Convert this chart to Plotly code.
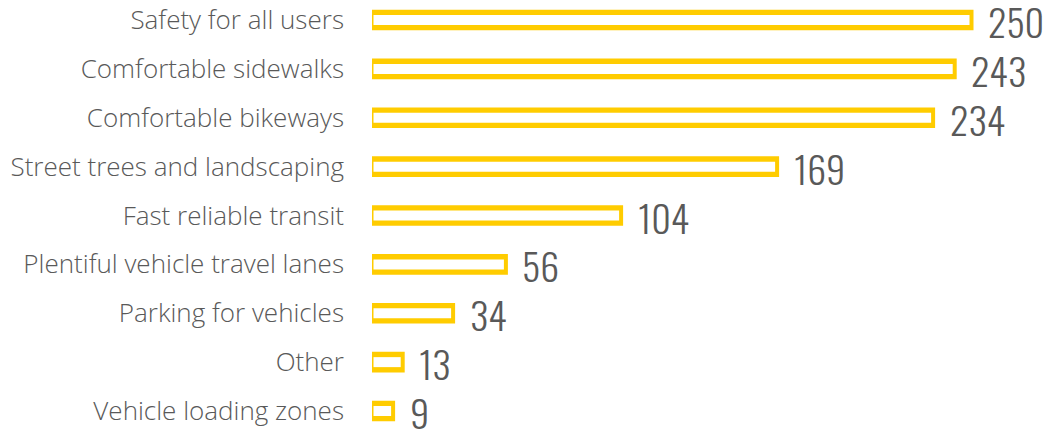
import plotly.graph_objects as go

categories = ["Safety for all users", "Comfortable sidewalks", "Comfortable bikeways",
              "Street trees and landscaping", "Fast reliable transit",
              "Plentiful vehicle travel lanes", "Parking for vehicles", "Other",
              "Vehicle loading zones"]
values = [250, 243, 234, 169, 104, 56, 34, 13, 9]

W, H = 1047, 429
ML = 372
S = 2.4  # px per unit
XMAX = (W - ML) / S
n = len(categories)
ypos = list(range(n - 1, -1, -1))
PPU = 48.875
y_lo = 0 - (H - 411) / PPU
y_hi = (n - 1) + 20 / PPU

YEL = "#FFCC00"
GRAY = "#595959"

outer_w = 17.7 / PPU
inner_w = 10.0 / PPU
inset_l = 1.5 / S
inset_r = 2.5 / S

fig = go.Figure()
fig.add_trace(go.Bar(
    y=ypos, x=values, base=0, orientation="h", width=outer_w,
    marker=dict(color=YEL, line=dict(color=YEL, width=3)),
    hoverinfo="skip", showlegend=False))
fig.add_trace(go.Bar(
    y=ypos, x=[v - inset_l - inset_r for v in values], base=inset_l,
    orientation="h", width=inner_w,
    marker=dict(color="white", line=dict(width=0)),
    hoverinfo="skip", showlegend=False))

for yp, v in zip(ypos, values):
    fig.add_annotation(x=v, y=yp, text=str(v), showarrow=False,
                       xanchor="left", yanchor="middle", xshift=14, yshift=-1,
                       font=dict(family="Oswald, Archivo Narrow, DejaVu Sans Condensed, sans-serif",
                                 size=38, color=GRAY, weight=300))

fig.update_layout(
    width=W, height=H, barmode="overlay",
    margin=dict(l=ML, r=0, t=0, b=0),
    plot_bgcolor="white", paper_bgcolor="white",
    xaxis=dict(range=[0, XMAX], visible=False),
    yaxis=dict(range=[y_lo, y_hi], tickmode="array", tickvals=ypos,
               ticktext=categories, showgrid=False, zeroline=False,
               showline=False, ticks="", ticklabelstandoff=27,
               tickfont=dict(family="Open Sans", size=26, color=GRAY, weight=300)),
)

fig.write_html("out.html")
